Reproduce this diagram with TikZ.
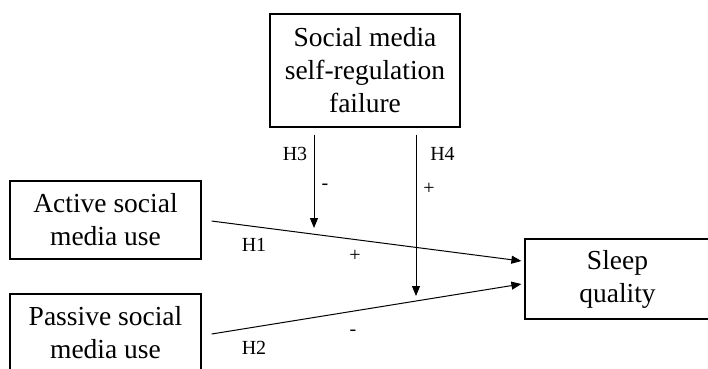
\documentclass[tikz,border=0pt]{standalone}
\usepackage{fontspec}
\setmainfont{Liberation Serif}
\usetikzlibrary{arrows.meta,calc}
\begin{document}
\begin{tikzpicture}[x=1pt,y=-1pt,
 box/.style={draw, line width=1.2pt, align=center, inner sep=0pt, font=\fontsize{27.5}{33}\selectfont},
 lbl/.style={font=\fontsize{20}{22}\selectfont, inner sep=0pt},
 lnk/.style={line width=1pt, -{Triangle[length=10pt,width=8pt]}}]
\useasboundingbox (0,0) rectangle (708,368);
\node[box, minimum width=191pt, minimum height=78pt] (A) at (105.5,220) {Active social\\media use};
\node[box, minimum width=191pt, minimum height=77pt] (P) at (105.5,332.5) {Passive social\\media use};
\node[box, minimum width=190pt, minimum height=113pt] (T) at (365,70.5) {Social media\\self-regulation\\failure};
\node[box, minimum width=185pt, minimum height=80pt] (S) at (617.5,279) {Sleep\\quality};
\coordinate (h1s) at ($(A.east)+(10,1)$);
\coordinate (h1e) at ($(S.west)+(-3,-18)$);
\coordinate (h2s) at ($(P.east)+(10,1.5)$);
\coordinate (h2e) at ($(S.west)+(-3,5)$);
\coordinate (h3s) at ($(T.south)+(-51,7)$);
\coordinate (h3e) at (314,228);
\coordinate (h4s) at ($(T.south)+(51,7)$);
\coordinate (h4e) at (416,296);
\draw[lnk] (h1s) -- (h1e);
\draw[lnk] (h2s) -- (h2e);
\draw[lnk] (h3s) -- (h3e);
\draw[lnk] (h4s) -- (h4e);
\node[lbl] (l3) at (295,154) {H3};
\node[lbl] (l4) at (442.5,154) {H4};
\node[lbl] (m3) at (325,187) {-};
\node[lbl] (p4) at (429,189) {+};
\node[lbl] (l1) at (254,244.5) {H1};
\node[lbl] (p1) at (355,256) {+};
\node[lbl] (l2) at (254,347.5) {H2};
\node[lbl] (m2) at (353,333) {-};
\end{tikzpicture}
\end{document}
